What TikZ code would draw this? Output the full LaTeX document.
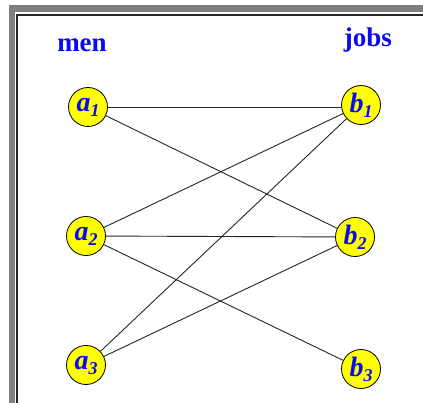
\documentclass[tikz,border=0pt]{standalone}
\usepackage{fontspec}
\setmainfont{Liberation Serif}
\definecolor{lblblue}{HTML}{0A0AF0}
\definecolor{framegrey}{HTML}{808080}
\definecolor{nodeyellow}{HTML}{FFFF00}
\newcommand{\nlab}[2]{{\fontsize{28}{28}\selectfont\bfseries\itshape #1}\raisebox{-5pt}{\fontsize{18}{18}\selectfont\bfseries\itshape #2}}
\tikzset{
  vert/.style={circle, draw=black, line width=0.8pt, fill=nodeyellow, minimum size=39pt, inner sep=0pt, text=lblblue},
  edge/.style={draw=black!85, line width=0.9pt},
  head/.style={text=lblblue, font=\fontsize{27}{27}\selectfont\bfseries, inner sep=0pt, anchor=base}
}
\begin{document}
\begin{tikzpicture}[x=1pt, y=-1pt]
\useasboundingbox (0,0) rectangle (423,403);
\fill[white] (0,0) rectangle (423,403);
% frame
\fill[framegrey] (9,5) rectangle (423,12);
\fill[framegrey] (9,5) rectangle (15,403);
\fill[black!85] (16,14) rectangle (423,16);
\fill[black!85] (16,14) rectangle (18,403);
% headings
\node[head] (men) at (82,52) {men};
\node[head] (jobs) at (368,47) {jobs};
% nodes
\node[vert] (a1) at (88,107) {\nlab{a}{1}};
\node[vert] (a2) at (86,236) {\nlab{a}{2}};
\node[vert] (a3) at (86,365) {\nlab{a}{3}};
\node[vert] (b1) at (361,105) {\raisebox{5pt}{\nlab{b}{1}}};
\node[vert] (b2) at (355,237) {\raisebox{5pt}{\nlab{b}{2}}};
\node[vert] (b3) at (361,369) {\raisebox{5pt}{\nlab{b}{3}}};
% edges
\draw[edge] (a1) -- (a1 -| b1.west);
\draw[edge] (a1) -- (b2);
\draw[edge] (a2) -- (b1);
\draw[edge] (a2) -- (b2);
\draw[edge] (a2) -- (b3);
\draw[edge] (a3) -- (b1);
\draw[edge] (a3) -- (b2);
\end{tikzpicture}
\end{document}
